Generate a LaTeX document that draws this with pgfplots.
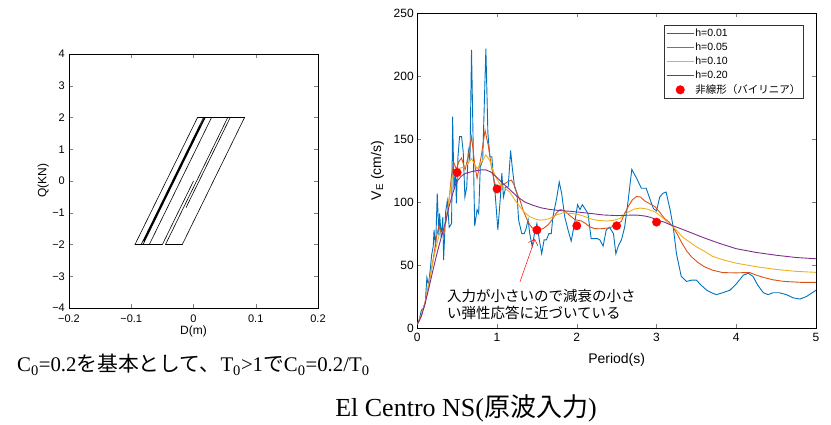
\documentclass[border=0pt]{standalone}
\usepackage{fontspec}
\setmainfont{Liberation Sans}
\newfontfamily\seriffont{Liberation Serif}
\newfontfamily\jp{Noto Sans CJK JP}
\usepackage{pgfplots}
\usepackage{pgfplotstable}
\pgfplotsset{compat=1.18}
\usetikzlibrary{arrows.meta}
\definecolor{mb}{rgb}{0,0.447,0.741}
\definecolor{mo}{rgb}{0.85,0.325,0.098}
\definecolor{my}{rgb}{0.929,0.694,0.125}
\definecolor{mp}{rgb}{0.494,0.184,0.556}
\pgfplotsset{
  linelegend/.style={legend image code/.code={\draw[##1, line width=1.2pt] (0pt,0pt) -- (27pt,0pt);}},
  dotlegend/.style={legend image code/.code={\draw[##1, mark repeat=2, mark phase=2] plot coordinates {(0pt,0pt) (13.5pt,0pt) (27pt,0pt)};}},
}

\pgfplotstableread{
x y
0.00 3
0.02 5
0.05 14
0.08 16
0.10 20
0.12 40
0.14 34
0.16 45
0.18 58
0.20 65
0.21 78
0.23 64
0.25 107
0.27 74
0.28 91
0.30 72
0.32 88
0.33 54
0.355 92
0.376 101
0.40 80
0.43 83
0.443 168
0.46 110
0.48 126
0.49 99
0.51 136
0.53 152
0.555 152
0.576 140
0.597 104
0.62 112
0.64 141
0.66 133
0.68 221
0.70 148
0.72 81
0.75 94
0.77 91
0.79 128
0.82 133
0.86 222
0.885 155
0.91 136
0.935 136
0.95 123
0.97 112
1.01 78
1.04 102
1.06 123
1.08 104
1.11 112
1.14 112
1.17 141
1.19 128
1.22 112
1.25 107
1.27 86
1.31 75
1.34 75
1.36 78
1.39 86
1.41 75
1.44 65
1.47 75
1.50 83
1.53 70
1.56 59
1.59 70
1.62 70
1.65 75
1.68 75
1.70 88
1.75 104
1.78 116
1.81 107
1.85 88
1.89 78
1.93 69
1.98 86
2.01 98
2.04 94
2.07 98
2.10 95
2.14 91
2.18 71
2.21 71
2.26 71
2.29 70
2.33 65
2.37 78
2.41 80
2.46 75
2.49 59
2.52 65
2.56 70
2.60 80
2.64 99
2.69 126
2.75 119
2.81 111
2.87 111
2.92 102
2.96 95
3.00 93
3.04 104
3.08 107
3.12 108
3.17 94
3.21 80
3.25 59
3.31 41
3.375 37
3.44 38
3.50 38
3.56 34
3.63 30
3.69 28
3.75 26.5
3.83 28
3.92 30
4.00 35
4.09 42
4.15 43.5
4.21 41
4.27 34
4.34 28
4.40 26.5
4.46 28
4.54 28
4.63 26.5
4.71 24
4.80 23
4.88 25
5.00 30
}\hone

\pgfplotstableread{
x y
0 3
0.05 10
0.1 21
0.15 37
0.2 55
0.24 72
0.27 81
0.3 76
0.33 74
0.36 86
0.4 103
0.43 122
0.46 131
0.49 126
0.52 132
0.555 135
0.6 126
0.64 137
0.68 152
0.72 130
0.75 119
0.8 136
0.85 157
0.89 145
0.93 128
0.97 115
1.0 112
1.04 112
1.08 114
1.13 116
1.18 117.5
1.22 113
1.25 107
1.29 101
1.33 93
1.37 87
1.41 82
1.45 79
1.52 78
1.58 79
1.64 82
1.69 86
1.74 91
1.79 94
1.84 93.5
1.9 90
1.98 86
2.06 85
2.11 83
2.16 80.5
2.22 79
2.29 78.8
2.4 79.5
2.5 81.5
2.56 85
2.6 91
2.65 97
2.7 102
2.75 104.5
2.8 104
2.85 101
2.92 98.5
2.98 96.5
3.04 92
3.1 87
3.16 84
3.21 80
3.26 74.5
3.31 68.5
3.38 61
3.44 56.5
3.52 52
3.6 48.7
3.7 46
3.83 44
4.0 43.8
4.1 44
4.17 44
4.25 42
4.35 40
4.46 38.3
4.6 37
4.8 36.3
5.0 36.2
}\hfive

\pgfplotstableread{
x y
0 3
0.05 10
0.1 21
0.15 37
0.2 54
0.25 68
0.28 75
0.32 76
0.36 84
0.4 103
0.44 120
0.47 125
0.535 127
0.6 128
0.64 131
0.68 134.5
0.72 130
0.75 126.5
0.8 131
0.86 137.5
0.91 133
0.95 125
1.0 118
1.04 114
1.1 111
1.16 108
1.22 102
1.29 96
1.35 91.5
1.41 88.4
1.48 86.5
1.54 85.7
1.6 86
1.66 87
1.75 90
1.83 91.5
1.92 91
2.0 90.5
2.08 89
2.16 87
2.26 85.5
2.37 85
2.46 85.5
2.54 87
2.6 90
2.65 92.3
2.72 94.5
2.8 95.3
2.88 94.5
2.98 92.3
3.06 88.5
3.12 85
3.19 81.5
3.26 77
3.33 72
3.4 69
3.5 64.5
3.6 61
3.7 57
3.84 54
4.0 51.5
4.25 48.7
4.5 46.5
4.75 45
5.0 44.2
}\hten

\pgfplotstableread{
x y
0 3
0.05 9
0.1 20
0.15 33
0.2 47
0.25 60
0.3 72
0.35 83
0.4 97
0.45 108
0.49 116
0.55 120.5
0.6 122.8
0.7 124.5
0.8 125.6
0.86 125.6
0.92 124
1.0 119.5
1.08 114.5
1.16 110
1.25 104.5
1.35 100
1.45 97.5
1.55 95.5
1.66 94.2
1.8 93.2
1.9 92.8
2.0 92.2
2.1 91.5
2.2 90.8
2.33 89.8
2.5 89.3
2.65 89.6
2.75 89.7
2.85 89
2.92 88
3.0 86
3.1 84
3.2 81.3
3.3 79
3.42 76
3.6 71.5
3.8 67
4.0 63
4.25 60
4.5 57.8
4.75 56
5.0 55
}\htwenty

\pgfplotstableread{
x y
0.5 123.5
1.0 110.5
1.5 77.8
2.0 81.2
2.5 81.2
3.0 84.1
}\nonlin

\pgfplotstableread{
x y
0 0
-0.05 -2
-0.094 -2
0.0065 2
0.019 2
-0.081 -2
-0.084 -2
0.016 2
-0.083 -1.96
0.018 2
-0.080 -1.9
0.019 2
0.029 2
-0.071 -2
0.029 2
0.082 2
-0.018 -2
-0.045 -2
0.055 2
-0.035 -1.6
0.055 2
0.059 2
-0.012 -0.84
}\hyst

\begin{document}
\begin{tikzpicture}[x=1pt,y=1pt]
\path[use as bounding box] (0,0) rectangle (831,425);

\begin{axis}[
  at={(69pt,117pt)}, anchor=south west,
  scale only axis, width=249pt, height=254pt,
  xmin=-0.2, xmax=0.2, ymin=-4, ymax=4,
  xtick={-0.2,-0.1,0,0.1,0.2},
  xticklabels={−0.2,−0.1,0,0.1,0.2},
  ytick={-4,-3,-2,-1,0,1,2,3,4},
  yticklabels={−4,−3,−2,−1,0,1,2,3,4},
  tick label style={font=\fontsize{11}{12}\selectfont},
  xticklabel style={inner sep=0pt, yshift=-6.5pt},
  yticklabel style={inner sep=0pt, xshift=-4pt},
  label style={font=\fontsize{12}{14}\selectfont},
  xlabel={D(m)}, ylabel={Q(KN)},
  xlabel style={at={(axis description cs:0.5,-0.092)},anchor=center},
  ylabel style={at={(axis description cs:-0.103,0.5)},anchor=center},
  tick align=inside, major tick length=4pt,
  axis line style={line width=0.6pt},
]
\addplot[black, line width=0.6pt] table {\hyst};
\end{axis}

\begin{axis}[
  at={(417.3pt,97pt)}, anchor=south west,
  scale only axis, width=398.7pt, height=314.7pt,
  xmin=0, xmax=5, ymin=0, ymax=250,
  xtick={0,1,2,3,4,5}, ytick={0,50,100,150,200,250},
  /pgf/number format/assume math mode=true,
  tick label style={font=\fontsize{12}{13}\selectfont},
  xticklabel style={yshift=-1.5pt},
  label style={font=\fontsize{14}{16}\selectfont},
  xlabel={Period(s)}, ylabel={V\textsubscript{E} (cm/s)},
  xlabel style={at={(axis description cs:0.5,-0.1016)},anchor=center},
  ylabel style={at={(axis description cs:-0.1,0.5)},anchor=center},
  tick align=inside, major tick length=4pt,
  axis line style={line width=0.6pt},
  legend style={at={(0.969,0.962)}, anchor=north east,
    font=\fontsize{10.5}{12}\selectfont, draw=black!80, line width=0.6pt,
    row sep=2.9pt, inner sep=2pt,
    nodes={inner sep=1pt}},
  legend cell align=left,
  linelegend,
]
\addplot[mb, line width=0.9pt] table {\hone};
\addlegendentry{h=0.01}
\addplot[mo, line width=0.9pt] table {\hfive};
\addlegendentry{h=0.05}
\addplot[my, line width=0.9pt] table {\hten};
\addlegendentry{h=0.10}
\addplot[mp, line width=0.9pt] table {\htwenty};
\addlegendentry{h=0.20}
\addplot[only marks, mark=*, mark size=4.2pt, red, mark options={draw=red, fill=red}, dotlegend]
  table {\nonlin};
\addlegendentry{\jp 非線形（バイリニア）}
\draw[red, line width=0.5pt, -{Straight Barb[length=5pt]}] (axis cs:1.287,36.5) -- (axis cs:1.475,70.6);
\node[anchor=west, align=left, inner sep=0pt, font=\jp\fontsize{14.5}{17}\selectfont] at (axis cs:0.372,18.6)
  {入力が小さいので減衰の小さ\\い弾性応答に近づいている};
\end{axis}

\node[anchor=base west, inner sep=0pt, font=\seriffont\fontsize{20.8}{24}\selectfont] at (17,53)
  {C\textsubscript{0}=0.2{\jp を基本として、}T\textsubscript{0}>1{\jp で}C\textsubscript{0}=0.2/T\textsubscript{0}};
\node[anchor=base, inner sep=0pt, font=\seriffont\fontsize{26}{30}\selectfont] at (466,8.3)
  {El Centro NS({\jp 原波入力})};
\end{tikzpicture}
\end{document}
